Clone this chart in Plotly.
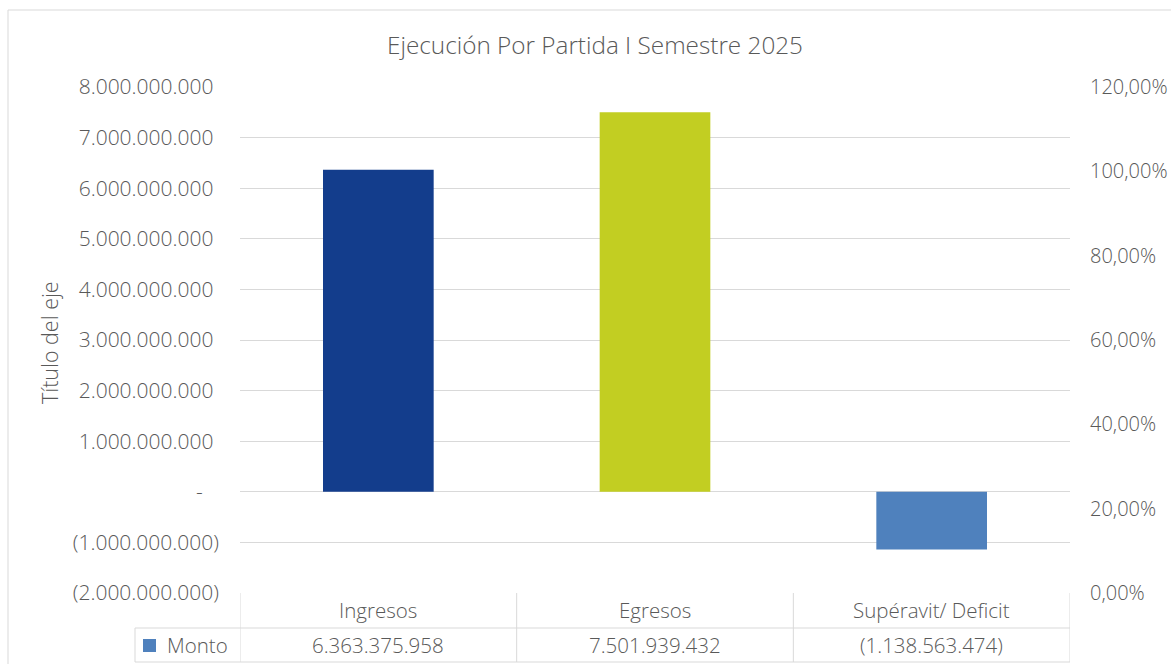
import plotly.graph_objects as go

categories = ["Ingresos", "Egresos", "Supéravit/ Deficit"]
monto = [6363375958, 7501939432, -1138563474]
series_name = "Monto"
bar_colors = ["#133D8C", "#C2CE22", "#4F81BD"]
legend_color = "#4F81BD"

left_tickvals = [8e9, 7e9, 6e9, 5e9, 4e9, 3e9, 2e9, 1e9, 0, -1e9, -2e9]
left_ticktext = ["8.000.000.000\u00a0", "7.000.000.000\u00a0", "6.000.000.000\u00a0",
                 "5.000.000.000\u00a0", "4.000.000.000\u00a0", "3.000.000.000\u00a0",
                 "2.000.000.000\u00a0", "1.000.000.000\u00a0", "-\u00a0\u00a0\u00a0",
                 "(1.000.000.000)", "(2.000.000.000)"]
right_tickvals = [0, 0.2, 0.4, 0.6, 0.8, 1.0, 1.2]
right_ticktext = ["0,00%", "20,00%", "40,00%", "60,00%", "80,00%", "100,00%", "120,00%"]


def fmt(v):
    s = f"{abs(int(v)):,}".replace(",", ".")
    return f"({s})" if v < 0 else s


GRAY = "#595959"
GRID = "#D9D9D9"
FONT = "Open Sans"

# plot area in pixels: x 240..1070, y 87..593
W, H = 1171, 664
L, R, T, B = 240, 1070, 87, 593
PW, PH = R - L, B - T


def px(x):
    return (x - L) / PW


def py(y):
    return (B - y) / PH


fig = go.Figure()
fig.add_trace(go.Bar(x=categories, y=monto, name=series_name,
                     marker=dict(color=bar_colors, line=dict(width=0)),
                     width=0.4, showlegend=False, hoverinfo="x+y"))
fig.add_trace(go.Scatter(x=[], y=[], yaxis="y2", showlegend=False))

shapes = []
# outer chart border
shapes.append(dict(type="rect", xref="paper", yref="paper",
                   x0=px(8), x1=px(1200), y0=py(700), y1=py(10),
                   line=dict(color=GRID, width=1), layer="below"))
# data table lines
for b in [-0.5, 0.5, 1.5, 2.5]:
    shapes.append(dict(type="line", xref="x", yref="paper", x0=b, x1=b,
                       y0=py(B), y1=py(662), line=dict(color=GRID, width=1)))
shapes.append(dict(type="line", xref="paper", yref="paper", x0=px(135), x1=px(135),
                   y0=py(628), y1=py(662), line=dict(color=GRID, width=1)))
for yy in [628, 662]:
    shapes.append(dict(type="line", xref="paper", yref="paper", x0=px(135), x1=1,
                       y0=py(yy), y1=py(yy), line=dict(color=GRID, width=1)))
# legend key
shapes.append(dict(type="rect", xref="paper", yref="paper",
                   x0=px(143), x1=px(156), y0=py(652), y1=py(639),
                   fillcolor=legend_color, line=dict(width=0)))

tfont = dict(size=20.5, color=GRAY, family=FONT, weight=300)
kfont = dict(size=21, color=GRAY, family=FONT, weight=300)
rfont = dict(size=20, color=GRAY, family=FONT, weight=300)
annotations = []
for c, v in zip(categories, monto):
    annotations.append(dict(x=c, xref="x", y=py(610), yref="paper", text=c,
                            xanchor="center", yanchor="middle",
                            showarrow=False, font=tfont))
    annotations.append(dict(x=c, xref="x", y=py(645), yref="paper", text=fmt(v),
                            xanchor="center", yanchor="middle",
                            showarrow=False, font=tfont))
annotations.append(dict(x=px(165), xref="paper", y=py(645), yref="paper", text=series_name,
                        xanchor="left", yanchor="middle", showarrow=False, font=tfont))
annotations.append(dict(x=px(49), xref="paper", y=py(343), yref="paper",
                        text="Título del eje", textangle=-90, showarrow=False,
                        xanchor="center", yanchor="middle",
                        font=dict(size=21.5, color=GRAY, family=FONT, weight=300)))

fig.update_layout(
    template="none",
    width=W, height=H,
    margin=dict(l=L, r=W - R, t=T, b=H - B, pad=0, autoexpand=False),
    paper_bgcolor="white", plot_bgcolor="white",
    font=dict(family=FONT, size=20, color=GRAY),
    title=dict(text="Ejecución Por Partida I Semestre 2025", x=595 / W, xanchor="center",
               y=1 - 45 / H, yanchor="middle", yref="container", automargin=False,
               font=dict(size=24.3, color=GRAY, family=FONT, weight=300)),
    xaxis=dict(range=[-0.5, 2.5], showticklabels=False, showgrid=False, automargin=False,
               zeroline=False, showline=False, ticks=""),
    yaxis=dict(range=[-2e9, 8e9], tickvals=left_tickvals, ticktext=left_ticktext,
               showgrid=True, gridcolor=GRID, gridwidth=1, zeroline=False, automargin=False,
               showline=False, ticks="", ticklabelstandoff=20,
               tickfont=kfont),
    yaxis2=dict(range=[0, 1.2], tickvals=right_tickvals, ticktext=right_ticktext,
                overlaying="y", side="right", showgrid=False, zeroline=False,
                automargin=False, showline=False, ticks="", ticklabelstandoff=19,
                tickfont=rfont),
    shapes=shapes, annotations=annotations,
    bargap=0.6,
)

fig.write_html("out.html", config={"displayModeBar": False},
               post_script="document.body.style.margin='0';")
